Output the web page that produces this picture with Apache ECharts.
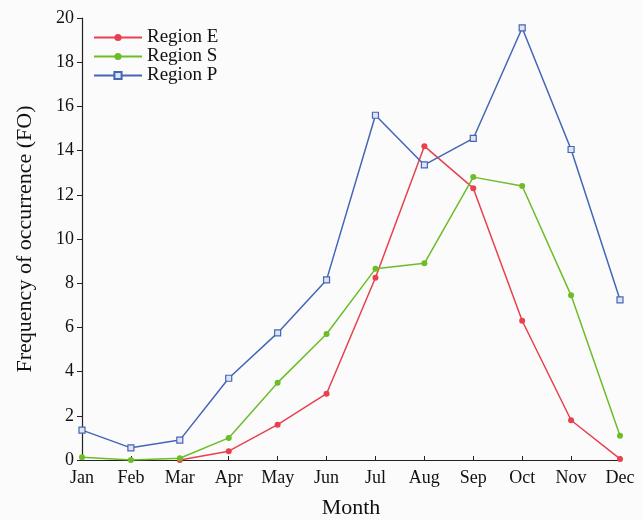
<!DOCTYPE html>
<html><head><meta charset="utf-8">
<script src="https://cdn.jsdelivr.net/npm/echarts@6/dist/echarts.min.js"></script>
<style>html,body{margin:0;padding:0;background:#fff}#c{width:643px;height:520px}</style>
</head><body><div id="c"></div>
<script>
const months = ['Jan','Feb','Mar','Apr','May','Jun','Jul','Aug','Sep','Oct','Nov','Dec'];
const regionE = [null, null, 0, 0.4, 1.6, 3.0, 8.25, 14.2, 12.3, 6.3, 1.8, 0.05];
const regionS = [0.12, 0, 0.08, 1.0, 3.5, 5.7, 8.65, 8.9, 12.8, 12.4, 7.45, 1.1];
const regionP = [1.35, 0.55, 0.9, 3.7, 5.75, 8.15, 15.6, 13.35, 14.55, 19.55, 14.05, 7.25];
const yTicks = [0,2,4,6,8,10,12,14,16,18,20];

const font = '"Liberation Serif", "Times New Roman", serif';
const chart = echarts.init(document.getElementById('c'));
chart.setOption({
  backgroundColor: '#fbfbfb',
  animation: false,
  textStyle: {fontFamily: font, color: '#111'},
  grid: {left: 82, right: 23, top: 18, bottom: 60, containLabel: false, outerBoundsMode: 'none'},
  legend: {
    orient: 'vertical', left: 88, top: 23, itemGap: 0, itemWidth: 48, itemHeight: 9,
    textStyle: {fontFamily: font, fontSize: 19, lineHeight: 18, color: '#111'},
    data: ['Region E','Region S','Region P']
  },
  xAxis: {
    type: 'category', data: months, boundaryGap: false,
    name: 'Month', nameLocation: 'middle', nameGap: 37,
    nameTextStyle: {fontFamily: font, fontSize: 22, color: '#111'},
    axisLine: {lineStyle: {color: '#222', width: 1.2}},
    axisTick: {show: true, inside: true, length: 4, interval: 0, lineStyle: {color: '#222'}},
    axisLabel: {fontFamily: font, fontSize: 18, color: '#111', margin: 9, interval: 0},
    splitLine: {show: false}
  },
  yAxis: {
    type: 'value', min: 0, max: 20, interval: 2,
    name: 'Frequency of occurrence (FO)', nameLocation: 'middle', nameGap: 46, nameRotate: 90,
    nameTextStyle: {fontFamily: font, fontSize: 22, color: '#111'},
    axisLine: {show: true, lineStyle: {color: '#222', width: 1.2}},
    axisTick: {show: true, length: 5, inside: false, lineStyle: {color: '#222'}},
    axisLabel: {fontFamily: font, fontSize: 18, color: '#111', margin: 8,
      formatter: v => yTicks.includes(v) ? String(v) : ''},
    splitLine: {show: false}
  },
  series: [
    {name: 'Region E', type: 'line', data: regionE, symbol: 'circle', symbolSize: 6,
     lineStyle: {color: '#e8404e', width: 1.5}, itemStyle: {color: '#e8404e'}},
    {name: 'Region S', type: 'line', data: regionS, symbol: 'circle', symbolSize: 6,
     lineStyle: {color: '#6cbd28', width: 1.5}, itemStyle: {color: '#6cbd28'}},
    {name: 'Region P', type: 'line', data: regionP, symbol: 'rect', symbolSize: 6,
     lineStyle: {color: '#4565b5', width: 1.5},
     itemStyle: {color: '#dfe5f4', borderColor: '#4565b5', borderWidth: 1.2}}
  ]
});
</script></body></html>
